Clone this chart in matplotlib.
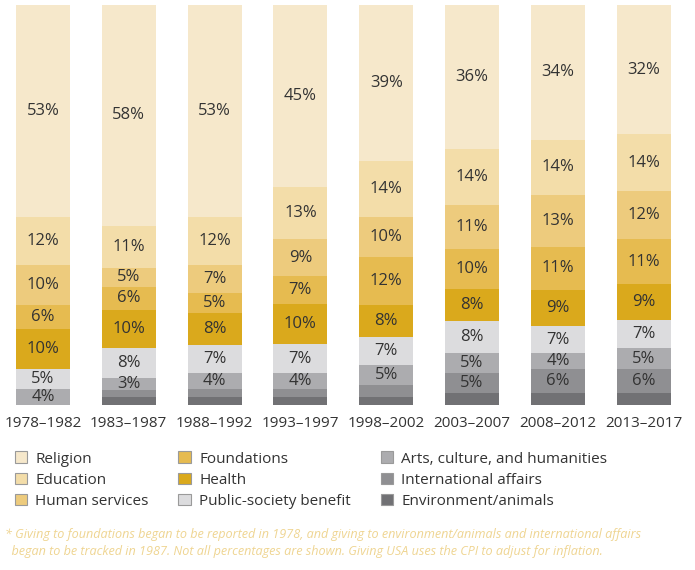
import numpy as np
import matplotlib
matplotlib.use("Agg")
import matplotlib.pyplot as plt
from matplotlib.patches import Patch

plt.rcParams['font.family'] = ['Open Sans', 'DejaVu Sans']

# Data (percent of total giving, bottom to top of each bar)
periods = ["1978–1982", "1983–1987", "1988–1992", "1993–1997",
           "1998–2002", "2003–2007", "2008–2012", "2013–2017"]

environment = [0, 2, 2, 2, 2, 3, 3, 3]
international = [0, 2, 2, 2, 3, 5, 6, 6]
arts = [4, 3, 4, 4, 5, 5, 4, 5]
public_society = [5, 8, 7, 7, 7, 8, 7, 7]
health = [10, 10, 8, 10, 8, 8, 9, 9]
foundations = [6, 6, 5, 7, 12, 10, 11, 11]
human_services = [10, 5, 7, 9, 10, 11, 13, 12]
education = [12, 11, 12, 13, 14, 14, 14, 14]
religion = [53, 58, 53, 45, 39, 36, 34, 32]

# which values carry a label in the chart
environment_shown = [False] * 8
international_shown = [False, False, False, False, False, True, True, True]

series = [
    ("Environment/animals", environment, "#717174", environment_shown),
    ("International affairs", international, "#8f8f92", international_shown),
    ("Arts, culture, and humanities", arts, "#acacaf", None),
    ("Public-society benefit", public_society, "#dcdcde", None),
    ("Health", health, "#daa91c", None),
    ("Foundations", foundations, "#e6bb50", None),
    ("Human services", human_services, "#edcb7d", None),
    ("Education", education, "#f3dda9", None),
    ("Religion", religion, "#f6e8cb", None),
]

legend_order = ["Religion", "Education", "Human services",
                "Foundations", "Health", "Public-society benefit",
                "Arts, culture, and humanities", "International affairs",
                "Environment/animals"]

fig = plt.figure(figsize=(6.95, 5.7), dpi=100)
ax = fig.add_axes([0.0, 0.2895, 0.988, 0.7018])

x = np.arange(len(periods))
totals = np.sum([np.array(s[1], dtype=float) for s in series], axis=0)
bottom = np.zeros(len(periods))

for name, vals, color, shown in series:
    vals = np.array(vals, dtype=float)
    h = vals / totals * 100
    ax.bar(x, h, bottom=bottom, width=0.63, color=color, edgecolor="none")
    for i, v in enumerate(vals):
        if v <= 0 or (shown is not None and not shown[i]):
            continue
        ax.text(x[i], bottom[i] + h[i] / 2, f"{int(v)}%", ha="center",
                va="center", fontsize=12, color="#333333")
    bottom += h

ax.set_xlim(-0.5, len(periods) - 0.5)
ax.set_ylim(0, 100)
ax.set_xticks(x)
ax.set_xticklabels(periods, fontsize=11, color="#333333")
ax.tick_params(axis="x", length=0, pad=8)
ax.set_yticks([])
for sp in ax.spines.values():
    sp.set_visible(False)

colors = {s[0]: s[2] for s in series}
handles = [Patch(facecolor=colors[n], edgecolor="#9a9a9a", linewidth=0.8,
                 label=n) for n in legend_order]
fig.legend(handles=handles, ncol=3, loc="upper left",
           bbox_to_anchor=(0.021, 0.208), frameon=False, fontsize=11,
           handlelength=0.8, handleheight=0.8, handletextpad=0.55,
           columnspacing=1.95, labelspacing=0.39, borderpad=0,
           borderaxespad=0, labelcolor="#333333")

note = ("* Giving to foundations began to be reported in 1978, and giving to "
        "environment/animals and international affairs\n"
        "  began to be tracked in 1987. Not all percentages are shown. "
        "Giving USA uses the CPI to adjust for inflation.")
fig.text(0.007, 0.047, note, fontsize=9.1, style="italic", color="#efd592",
         va="center", ha="left", linespacing=1.45)

fig.savefig("out.png", dpi=100)
